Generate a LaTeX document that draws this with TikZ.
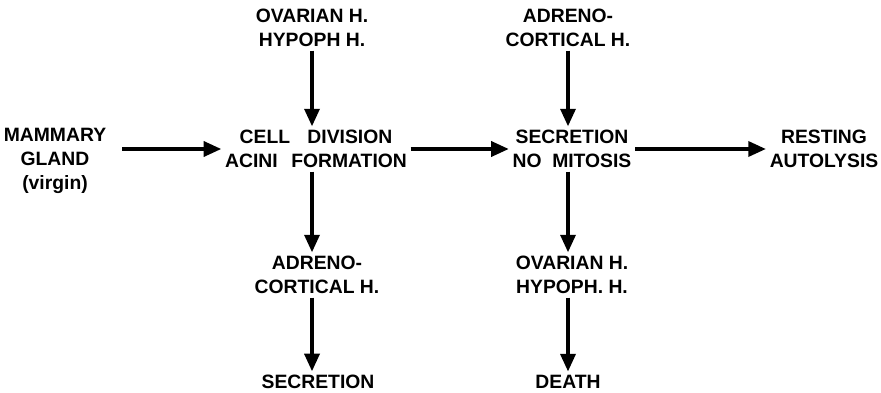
\documentclass[tikz,border=0pt]{standalone}
\usepackage{fontspec}
\setmainfont{Liberation Sans}
\usetikzlibrary{arrows.meta}

\begin{document}
\begin{tikzpicture}[x=0.02cm,y=-0.02cm,
  txt/.style={align=center,inner sep=2pt,font=\fontsize{11}{13.6}\selectfont\bfseries},
  arr/.style={line width=2pt,-{Triangle[length=10pt,width=8.5pt]}}]%[scale=1.0]
\useasboundingbox (0,0) rectangle (881,392);
\node[txt] (gland) at (55,161) {MAMMARY\\GLAND\\(virgin)};
\node[txt] (cell) at (316,149) {CELL\hspace{0.9em}DIVISION\\ACINI\hspace{0.7em}FORMATION};
\node[txt] (secr) at (572,149) {SECRETION\\NO\hspace{0.55em}MITOSIS};
\node[txt] (rest) at (824,149) {RESTING\\AUTOLYSIS};
\node[txt] (ovtop) at (312,28) {OVARIAN H.\\HYPOPH H.};
\node[txt] (adtop) at (568,28) {ADRENO-\\CORTICAL H.};
\node[txt] (adlow) at (317,275) {ADRENO-\\CORTICAL H.};
\node[txt] (ovlow) at (572,275) {OVARIAN H.\\HYPOPH. H.};
\node[txt] (secrlow) at (318,382) {SECRETION};
\node[txt] (death) at (568,382) {DEATH};
% rows
\draw[arr] (gland.east |- cell.west) ++(12,0) coordinate (g1) -- (cell.west);
\draw[arr] (cell.east) -- (secr.west);
\draw[arr] (secr.east) -- (rest.west);
% columns
\draw[arr] (ovtop.south) -- (ovtop.south |- cell.north);
\draw[arr] (adtop.south) -- (adtop.south |- secr.north);
\draw[arr] (ovtop.south |- cell.south) -- (ovtop.south |- adlow.north);
\draw[arr] (adtop.south |- secr.south) -- (adtop.south |- ovlow.north);
\draw[arr] (ovtop.south |- adlow.south) -- (ovtop.south |- secrlow.north);
\draw[arr] (adtop.south |- ovlow.south) -- (adtop.south |- death.north);
\end{tikzpicture}
\end{document}
